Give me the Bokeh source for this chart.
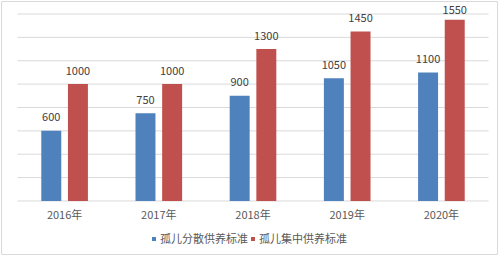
from bokeh.plotting import figure
from bokeh.models import ColumnDataSource, Legend, LegendItem, Range1d
from bokeh.transform import dodge
from bokeh.core.properties import value
from bokeh.embed import file_html
from bokeh.resources import INLINE

years = ["2016年", "2017年", "2018年", "2019年", "2020年"]
scattered = [600, 750, 900, 1050, 1100]
centralized = [1000, 1000, 1300, 1450, 1550]
series_names = ["孤儿分散供养标准", "孤儿集中供养标准"]
grid_values = [0, 200, 400, 600, 800, 1000, 1200, 1400, 1600]

Y_MAX = 1600
# data labels sit ~13.5px above the bar, but are kept inside the plot area near the top
def label_offsets(vals):
    return [-13.5 if v <= Y_MAX - 100 else -9.5 for v in vals]

src = ColumnDataSource(data=dict(
    xc=[i + 0.5 for i in range(len(years))],
    years=years,
    scattered=scattered,
    centralized=centralized,
    s_lab=[str(v) for v in scattered],
    c_lab=[str(v) for v in centralized],
    s_off=label_offsets(scattered),
    c_off=label_offsets(centralized),
    base=[0] * len(years),
))
gsrc = ColumnDataSource(data=dict(
    y=grid_values,
    x0=[0] * len(grid_values),
    x1=[len(years)] * len(grid_values),
))

FONT = "Noto Sans CJK SC"
BLUE = "#4F81BD"
RED = "#C0504D"
GRID = "#d9d9d9"

p = figure(width=499, height=257,
           x_range=Range1d(-0.1699, 5.0955), y_range=Range1d(-458, 1707),
           output_backend="svg", toolbar_location=None,
           min_border_left=1, min_border_right=2, min_border_top=1, min_border_bottom=3)
p.outline_line_color = GRID
p.axis.visible = False
p.grid.visible = False

p.segment(x0="x0", x1="x1", y0="y", y1="y", source=gsrc, line_color=GRID, line_width=1)

off = 0.1415
w = 0.212
rb = p.vbar(x=dodge("xc", -off), top="scattered", width=w,
            source=src, fill_color=BLUE, line_color=None)
rr = p.vbar(x=dodge("xc", off), top="centralized", width=w,
            source=src, fill_color=RED, line_color=None)

p.text(x=dodge("xc", -off), y="scattered", text="s_lab", source=src,
       text_align="center", text_baseline="middle", y_offset="s_off",
       text_font=value(FONT), text_font_size="11px", text_color="#404040")
p.text(x=dodge("xc", off), y="centralized", text="c_lab", source=src,
       text_align="center", text_baseline="middle", y_offset="c_off",
       text_font=value(FONT), text_font_size="11px", text_color="#404040")

# category (year) labels under the baseline
p.text(x="xc", y="base", text="years", source=src,
       text_align="center", text_baseline="middle", y_offset=13,
       text_font=value(FONT), text_font_size="11px", text_color="#595959")

legend = Legend(items=[LegendItem(label=series_names[0], renderers=[rb]),
                       LegendItem(label=series_names[1], renderers=[rr])],
                orientation="horizontal", location=(150, 8),
                label_text_font=FONT, label_text_font_size="11px",
                label_text_color="#595959", label_height=14,
                glyph_width=5, glyph_height=5, label_standoff=4, spacing=2,
                border_line_color=None, background_fill_alpha=0,
                padding=0, margin=0)
p.add_layout(legend, "center")

open("out.html", "w").write(file_html(p, INLINE))
